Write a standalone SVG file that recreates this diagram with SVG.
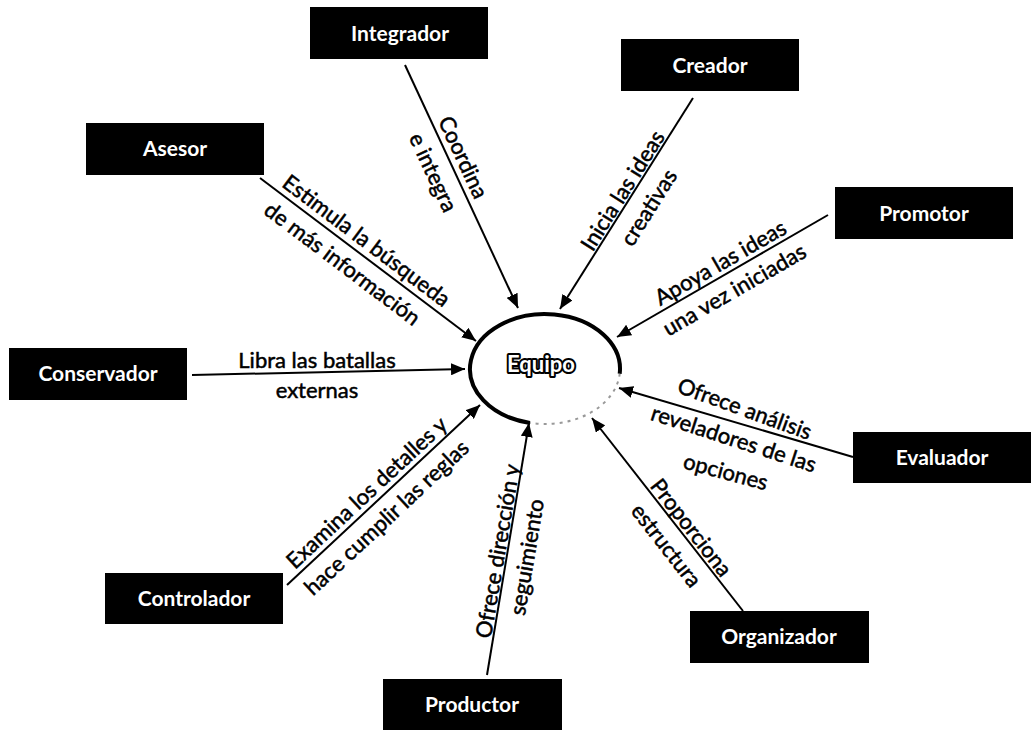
<svg xmlns="http://www.w3.org/2000/svg" width="1033" height="730" viewBox="0 0 1033 730">
  <style>
    .box { fill: #000; }
    .role { fill: #fff; font-family: Lato, "Liberation Sans", sans-serif; font-size: 21px; font-weight: bold; text-anchor: middle; dominant-baseline: central; }
    .edge { stroke: #000; stroke-width: 2; fill: none; marker-end: url(#head); }
    .lbl { fill: #000; stroke: #000; stroke-width: 0.5; font-family: Lato, "Liberation Sans", sans-serif; font-size: 22px; text-anchor: middle; dominant-baseline: central; }
    .hub { fill: none; stroke: #000; stroke-width: 4; }
    .hub-faint { fill: none; stroke: #999; stroke-width: 2; stroke-dasharray: 3 5; }
    .hub-text { fill: #fff; stroke: #000; stroke-width: 4; paint-order: stroke; stroke-linejoin: round; font-family: Lato, "Liberation Sans", sans-serif; font-size: 22px; font-weight: bold; text-anchor: middle; dominant-baseline: central; }
  </style>
  <defs>
    <marker id="head" viewBox="0 0 14 12" refX="14" refY="6" markerWidth="14" markerHeight="12" markerUnits="userSpaceOnUse" orient="auto">
      <path d="M0,0 L14,6 L0,12 z" fill="#000"/>
    </marker>
  </defs>
  <rect width="1033" height="730" fill="#fff"/>

  <!-- central node -->
  <g id="equipo">
    <path class="hub" d="M530,422.9 A75,55 0 1 1 619.7,373.8"/>
    <path class="hub-faint" d="M619.7,373.8 A75,55 0 0 1 530,422.9"/>
    <text class="hub-text" x="541" y="363">Equipo</text>
  </g>

  <!-- role nodes -->
  <g id="integrador"><rect class="box" x="310" y="7" width="178" height="52"/><text class="role" x="400" y="32">Integrador</text></g>
  <g id="creador"><rect class="box" x="621" y="39" width="178" height="52"/><text class="role" x="710" y="64">Creador</text></g>
  <g id="promotor"><rect class="box" x="835" y="187" width="178" height="52"/><text class="role" x="924" y="212">Promotor</text></g>
  <g id="asesor"><rect class="box" x="86" y="123" width="178" height="52"/><text class="role" x="175" y="147">Asesor</text></g>
  <g id="conservador"><rect class="box" x="9" y="348" width="178" height="52"/><text class="role" x="98" y="372">Conservador</text></g>
  <g id="controlador"><rect class="box" x="105" y="573" width="178" height="51"/><text class="role" x="194" y="597">Controlador</text></g>
  <g id="productor"><rect class="box" x="383" y="679" width="179" height="52"/><text class="role" x="472" y="703">Productor</text></g>
  <g id="organizador"><rect class="box" x="690" y="611" width="179" height="52"/><text class="role" x="779" y="635">Organizador</text></g>
  <g id="evaluador"><rect class="box" x="853" y="432" width="178" height="51"/><text class="role" x="942" y="456">Evaluador</text></g>

  <!-- connectors -->
  <g id="connectors">
    <line class="edge" x1="405" y1="65" x2="518" y2="308"/>
    <line class="edge" x1="693" y1="98" x2="560" y2="309"/>
    <line class="edge" x1="828" y1="215" x2="617" y2="337"/>
    <line class="edge" x1="260" y1="178" x2="476" y2="341"/>
    <line class="edge" x1="192" y1="375" x2="465" y2="369"/>
    <line class="edge" x1="287" y1="585" x2="480" y2="405"/>
    <line class="edge" x1="487" y1="675" x2="529" y2="423"/>
    <line class="edge" x1="743" y1="611" x2="592" y2="418"/>
    <line class="edge" x1="853" y1="457" x2="619" y2="388"/>
  </g>

  <!-- connector labels -->
  <g id="edge-labels">
    <text class="lbl" transform="translate(464,157) rotate(65)">Coordina</text>
    <text class="lbl" transform="translate(434,172) rotate(65)">e integra</text>

    <text class="lbl" transform="translate(622,190) rotate(-57.8)">Inicia las ideas</text>
    <text class="lbl" transform="translate(648,207) rotate(-57.8)">creativas</text>

    <text class="lbl" transform="translate(720,262) rotate(-30)">Apoya las ideas</text>
    <text class="lbl" transform="translate(734,289) rotate(-30)">una vez iniciadas</text>

    <text class="lbl" transform="translate(367,240) rotate(37)">Estimula la búsqueda</text>
    <text class="lbl" transform="translate(343,263) rotate(37)">de más información</text>

    <text class="lbl" x="317" y="359">Libra las batallas</text>
    <text class="lbl" x="317" y="389">externas</text>

    <text class="lbl" transform="translate(366,492) rotate(-43)">Examina los detalles y</text>
    <text class="lbl" transform="translate(386,517) rotate(-43)">hace cumplir las reglas</text>

    <text class="lbl" transform="translate(497,551) rotate(-80.5)">Ofrece dirección y</text>
    <text class="lbl" transform="translate(526,557) rotate(-80.5)">seguimiento</text>

    <text class="lbl" transform="translate(692,527) rotate(52)">Proporciona</text>
    <text class="lbl" transform="translate(667,545) rotate(52)">estructura</text>

    <text class="lbl" transform="translate(745,408) rotate(20)">Ofrece análisis</text>
    <text class="lbl" transform="translate(734,438) rotate(18)">reveladores de las</text>
    <text class="lbl" transform="translate(726,471) rotate(15)">opciones</text>
  </g>
</svg>
